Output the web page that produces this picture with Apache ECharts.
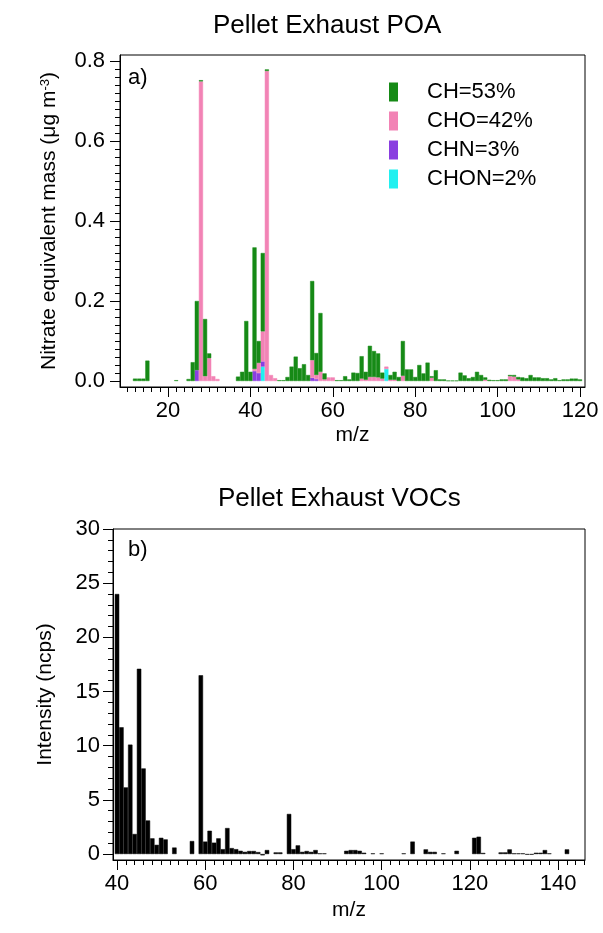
<!DOCTYPE html>
<html lang="en">
<head>
<meta charset="UTF-8">
<title>Pellet Exhaust POA / VOCs</title>
<script src="https://cdn.jsdelivr.net/npm/echarts@6/dist/echarts.min.js"></script>
<style>html,body{margin:0;padding:0;background:#fff}</style>
</head>
<body>
<div id="chart" style="width:603px;height:933px;"></div>
<script>
// --- a) POA spectrum, m/z 12..120 (one value per unit mass) ---
const poaStart = 12;
const ch = [
  0.006, 0.006, 0.006, 0.051, 0, 0, 0, 0, 0, 0,
  0.002, 0, 0, 0.005, 0.047, 0.173, 0.003, 0.143, 0.012, 0,
  0, 0, 0, 0, 0, 0.011, 0.023, 0.15, 0.023, 0.304,
  0.055, 0.196, 0.004, 0, 0, 0.002, 0.002, 0.01, 0.036, 0.061,
  0.032, 0.042, 0.015, 0.198, 0.055, 0.147, 0.015, 0, 0, 0.002,
  0.002, 0.012, 0.004, 0.021, 0.02, 0.056, 0.02, 0.078, 0.065, 0.06,
  0.015, 0, 0.012, 0.02, 0.01, 0.087, 0.029, 0.029, 0.01, 0.04,
  0.019, 0.046, 0.004, 0.027, 0.004, 0.004, 0.001, 0.001, 0.001, 0.021,
  0.014, 0.007, 0.01, 0.023, 0.015, 0.006, 0.003, 0.002, 0.002, 0.004,
  0.004, 0.003, 0.004, 0.006, 0.009, 0.007, 0.015, 0.009, 0.009, 0.007,
  0.007, 0.004, 0.007, 0.002, 0.004, 0.004, 0.006, 0.006, 0.004
];
const cho = [
  0, 0, 0, 0, 0, 0, 0, 0, 0, 0,
  0, 0, 0, 0, 0, 0, 0.749, 0.012, 0.057, 0.012,
  0.005, 0, 0, 0, 0, 0, 0, 0, 0, 0.005,
  0.025, 0.075, 0.775, 0.015, 0.007, 0, 0, 0, 0, 0,
  0, 0, 0, 0.044, 0.01, 0.023, 0.004, 0.009, 0.009, 0,
  0, 0, 0, 0, 0, 0.006, 0.003, 0.01, 0.01, 0.009,
  0.006, 0.006, 0.003, 0.003, 0, 0.013, 0, 0, 0, 0,
  0, 0, 0.008, 0, 0, 0, 0, 0, 0, 0,
  0, 0, 0, 0, 0, 0.003, 0, 0, 0, 0,
  0, 0.012, 0.011, 0.004, 0, 0, 0, 0, 0, 0,
  0, 0, 0, 0, 0, 0, 0, 0, 0
];
const chn = [
  0, 0, 0, 0, 0, 0, 0, 0, 0, 0,
  0, 0, 0, 0, 0, 0.027, 0, 0, 0, 0,
  0, 0, 0, 0, 0, 0, 0, 0, 0, 0.025,
  0.02, 0.013, 0, 0, 0, 0, 0, 0, 0, 0,
  0, 0, 0, 0.008, 0.005, 0, 0, 0, 0, 0,
  0, 0, 0, 0, 0, 0, 0, 0, 0, 0,
  0, 0, 0, 0, 0, 0, 0, 0, 0, 0,
  0, 0, 0, 0, 0, 0, 0, 0, 0, 0,
  0, 0, 0, 0, 0, 0, 0, 0, 0, 0,
  0, 0, 0, 0, 0, 0, 0, 0, 0, 0,
  0, 0, 0, 0, 0, 0, 0, 0, 0
];
const chon = [
  0, 0, 0, 0, 0, 0, 0, 0, 0, 0,
  0, 0, 0, 0, 0, 0, 0, 0, 0, 0,
  0, 0, 0, 0, 0, 0, 0, 0, 0, 0,
  0, 0.036, 0, 0, 0, 0, 0, 0, 0, 0,
  0, 0, 0, 0, 0, 0, 0, 0, 0, 0,
  0, 0, 0, 0, 0, 0, 0, 0, 0, 0,
  0, 0.03, 0, 0, 0, 0, 0, 0, 0, 0,
  0, 0, 0, 0, 0, 0, 0, 0, 0, 0,
  0, 0, 0, 0, 0, 0, 0, 0, 0, 0,
  0, 0, 0, 0, 0, 0, 0, 0, 0, 0,
  0, 0, 0, 0, 0, 0, 0, 0, 0
];
const poaNames = ['CH=53%', 'CHO=42%', 'CHN=3%', 'CHON=2%'];

// --- b) VOC spectrum, m/z 40..143 ---
const vocStart = 40;
const voc = [
  24, 11.7, 6.15, 10.1, 1.85, 17.1, 7.9, 3.1, 1.45, 0.85,
  1.5, 1.35, 0, 0.6, 0, 0, 0, 1.2, 0, 16.5,
  1.15, 2.15, 1.05, 1.45, 0.45, 2.4, 0.55, 0.45, 0.3, 0.2,
  0.28, 0.28, 0.18, -0.12, 0.37, 0, 0.15, 0.15, 0, 3.7,
  0.45, 0.8, 0.2, 0.28, 0.2, 0.37, 0.06, 0.06, 0, 0,
  0, 0, 0.3, 0.37, 0.37, 0.3, 0.12, 0, 0.06, 0,
  0.06, 0, 0, 0, 0, 0.06, 0, 1.15, 0, 0,
  0.43, 0.2, 0.2, 0, 0.06, 0, 0, 0.3, 0, 0,
  0, 1.5, 1.6, 0.1, 0, 0, 0, 0.15, 0.15, 0.43,
  0.06, 0.06, 0.06, -0.06, -0.06, 0.12, 0.12, 0.37, 0.06, 0,
  0, 0, 0.43, 0
];

// tick labels
const poaXTicks = [20, 40, 60, 80, 100, 120];
const poaYTicks = [0, 0.2, 0.4, 0.6, 0.8];
const vocXTicks = [40, 60, 80, 100, 120, 140];
const vocYTicks = [0, 5, 10, 15, 20, 25, 30];

// unit-mass slots covering each frame (bars sit on a hidden category axis)
function massRange(from, to) {
    const out = [];
    for (let m = from; m <= to; m++) out.push(m);
    return out;
}
const poaCats = massRange(9, 121);
const vocCats = massRange(39, 146);
// empty slots become '-' so no zero-height outline is drawn
const onCats = (cats, arr, start) =>
    cats.map(m => {
        const v = (m >= start && m < start + arr.length) ? arr[m - start] : 0;
        return v === 0 ? '-' : v;
    });

const font = 'Liberation Sans, Arial, sans-serif';
const black = '#000';

function tickAxis(dim, gridIndex, min, max, ticks, minorSplit, fmt, name, nameGap, labelMargin) {
    return {
        type: 'value', gridIndex: gridIndex, min: min, max: max,
        name: name, nameLocation: 'middle', nameGap: nameGap,
        nameTextStyle: {
            fontSize: 21, color: black, fontFamily: font,
            rich: {
                t: { fontSize: 21, color: black, fontFamily: font },
                s: { fontSize: 13, color: black, fontFamily: font, verticalAlign: 'top' }
            }
        },
        axisLine: { show: true, onZero: false, lineStyle: { color: black } },
        axisTick: { show: true, length: 10, customValues: ticks, lineStyle: { color: black } },
        minorTick: { show: true, splitNumber: minorSplit, length: 5, lineStyle: { color: black } },
        axisLabel: { customValues: ticks, fontSize: 22, color: black, margin: labelMargin, fontFamily: font, formatter: fmt },
        splitLine: { show: false }
    };
}

const hiddenCat = (gridIndex, cats) => ({ type: 'category', gridIndex: gridIndex, data: cats, show: false, boundaryGap: true });
const hiddenVal = (gridIndex, min, max) => ({ type: 'value', gridIndex: gridIndex, min: min, max: max, show: false });

const chart = echarts.init(document.getElementById('chart'));

const poaColors = ['#168a16', '#f283b5', '#8a3ee0', '#22f0f0'];
const poaSeriesData = [ch, cho, chn, chon];
// stacked from the bottom: CHON, CHN, CHO, CH
const poaSeries = [3, 2, 1, 0].map(k => ({
    name: poaNames[k],
    type: 'bar',
    stack: 'poa',
    xAxisIndex: 2,
    yAxisIndex: 2,
    barCategoryGap: '0%',
    itemStyle: { color: poaColors[k], borderColor: poaColors[k], borderWidth: 0.5 },
    data: onCats(poaCats, poaSeriesData[k], poaStart)
}));

const option = {
    animation: false,
    backgroundColor: '#fff',
    textStyle: { fontFamily: font },
    title: [
        { text: 'Pellet Exhaust POA', left: 213, top: 13, padding: 0,
          textStyle: { fontSize: 26, fontWeight: 'normal', color: black, fontFamily: font } },
        { text: 'Pellet Exhaust VOCs', left: 218, top: 486, padding: 0,
          textStyle: { fontSize: 26, fontWeight: 'normal', color: black, fontFamily: font } }
    ],
    legend: {
        data: poaNames,
        orient: 'vertical',
        left: 389, top: 81, padding: 0,
        icon: 'rect', itemWidth: 7, itemHeight: 17, itemGap: 7,
        selectedMode: false,
        textStyle: { fontSize: 22, lineHeight: 22, color: black, fontFamily: font, padding: [0, 0, 0, 25] }
    },
    grid: [
        { left: 120, top: 55, width: 465, height: 332, show: true, borderColor: black, borderWidth: 1 },
        { left: 113, top: 529, width: 472, height: 331, show: true, borderColor: black, borderWidth: 1 },
        { left: 120.6, top: 55, width: 465.6, height: 332 },
        { left: 110.4, top: 529, width: 476.4, height: 331 }
    ],
    xAxis: [
        tickAxis('x', 0, 8.35, 121.21, poaXTicks, 10, v => String(v), 'm/z', 38, 13),
        tickAxis('x', 1, 39.1, 146.1, vocXTicks, 10, v => String(v), 'm/z', 40, 13),
        hiddenCat(2, poaCats),
        hiddenCat(3, vocCats)
    ],
    yAxis: [
        tickAxis('y', 0, -0.015, 0.815, poaYTicks, 10, v => v.toFixed(1),
                 '{t|Nitrate equivalent mass (μg m}{s|-3}{t|)}', 60, 15),
        tickAxis('y', 1, -0.55, 30, vocYTicks, 5, v => String(v), 'Intensity (ncps)', 57, 13),
        hiddenVal(2, -0.015, 0.815),
        hiddenVal(3, -0.55, 30)
    ],
    graphic: [
        { type: 'text', left: 128, top: 67, style: { text: 'a)', fontSize: 22, fill: black, fontFamily: font } },
        { type: 'text', left: 128, top: 539, style: { text: 'b)', fontSize: 22, fill: black, fontFamily: font } }
    ],
    series: poaSeries.concat([{
        name: 'VOC',
        type: 'bar',
        xAxisIndex: 3,
        yAxisIndex: 3,
        barCategoryGap: '0%',
        itemStyle: { color: black, borderColor: black, borderWidth: 0.5 },
        data: onCats(vocCats, voc, vocStart)
    }])
};

chart.setOption(option);
</script>
</body>
</html>
